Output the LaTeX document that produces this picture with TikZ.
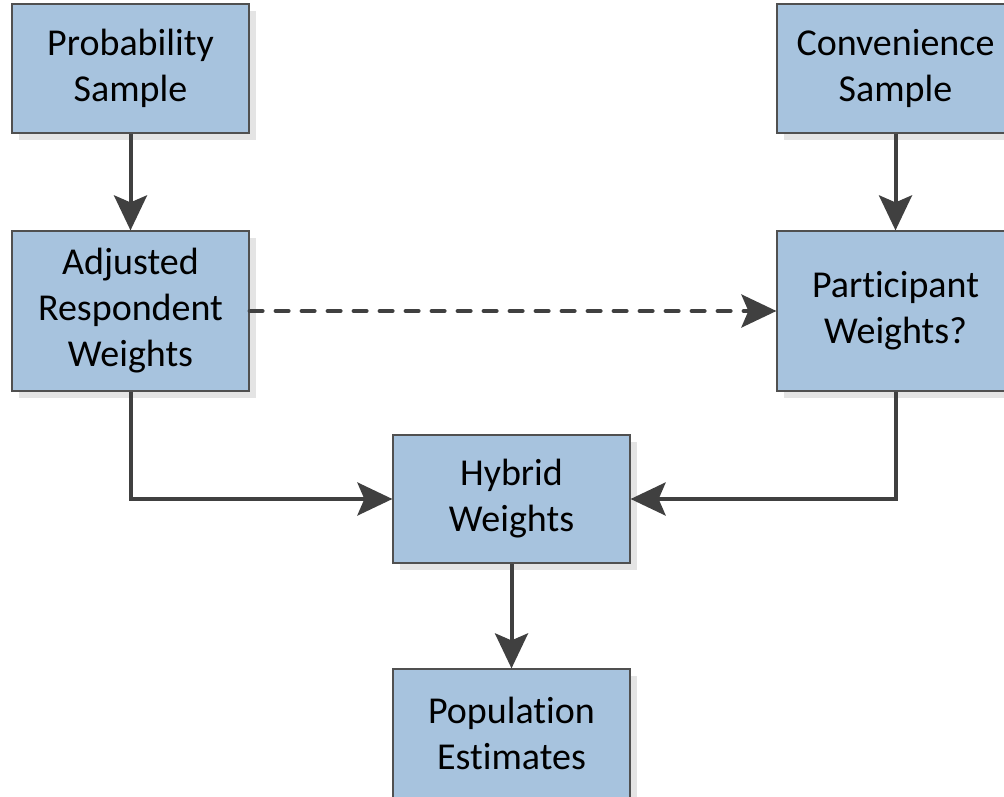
\documentclass[tikz,border=0pt]{standalone}
\usepackage{fontspec}
\setmainfont[Ligatures=NoCommon]{Carlito}
\usepackage{xcolor}
\usepackage{tikz}
\usetikzlibrary{arrows.meta,shadows}
\definecolor{boxfill}{HTML}{A7C3DE}
\definecolor{boxline}{HTML}{505050}
\definecolor{arrowc}{HTML}{404040}
\definecolor{shade}{HTML}{E4E4E4}
\tikzset{
  box/.style={rectangle, fill=boxfill, draw=boxline, line width=1.2pt,
    minimum width=237pt, minimum height=129pt, inner sep=0pt,
    align=center, font=\fontsize{38}{46}\selectfont,
    drop shadow={shadow xshift=7pt, shadow yshift=-7pt, fill=shade, opacity=1}},
  tallbox/.style={box, minimum height=160pt},
  flow/.style={draw=arrowc, line width=4pt,
    -{Stealth[length=35pt, width=33pt, inset=7pt]}},
  maybe/.style={flow, line cap=round, dash pattern=on 13pt off 13pt}
}
\begin{document}
\begin{tikzpicture}[x=1pt, y=-1pt]
\useasboundingbox (0,0) rectangle (1004,797);
% samples
\node[box] (prob) at (130.5,68.5) {Probability\\Sample};
\node[box] (conv) at (895.5,68.5) {Convenience\\Sample};
% weights
\node[tallbox] (adj) at (130.5,311) {Adjusted\\Respondent\\Weights};
\node[tallbox] (part) at (895.5,311) {Participant\\Weights?};
\node[box, minimum height=128pt] (hyb) at (511.5,499) {Hybrid\\Weights};
% result
\node[box] (pop) at (511.5,733.5) {Population\\Estimates};

\draw[flow] (prob) -- (adj);
\draw[flow] (conv) -- (part);
\draw[maybe] (adj) -- (part);
\draw[flow] (adj.south) |- (hyb.west);
\draw[flow] (part.south) |- (hyb.east);
\draw[flow] (hyb) -- (pop);
\end{tikzpicture}
\end{document}
